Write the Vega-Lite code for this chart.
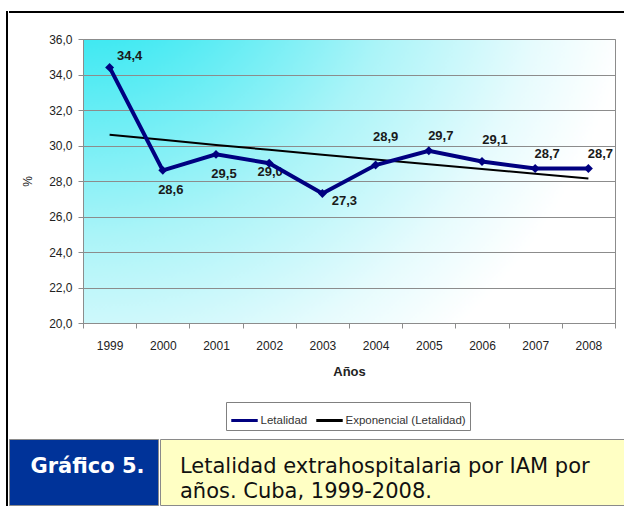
{
  "$schema": "https://vega.github.io/schema/vega-lite/v6.json",
  "padding": {"left": 6, "top": 11, "right": 0, "bottom": 0},
  "background": "#ffffff",
  "config": {
    "locale": {"number": {"decimal": ",", "thousands": ".", "grouping": [3], "currency": ["", " €"]}},
    "font": "Liberation Sans"
  },
  "spacing": 0,
  "resolve": {"scale": {"color": "independent"}, "legend": {"color": "independent"}},
  "hconcat": [
    {
      "data": {"values": []},
      "mark": "point",
      "width": 2,
      "height": 495,
      "view": {"fill": "#000000", "stroke": null}
    },
    {
      "spacing": 19,
      "resolve": {"scale": {"color": "independent"}, "legend": {"color": "independent"}},
      "vconcat": [
        {
          "data": {"values": []},
          "mark": "point",
          "width": 616,
          "height": 2,
          "view": {"fill": "#000000", "stroke": null}
        },
        {
          "spacing": 7,
          "resolve": {"scale": {"color": "independent"}, "legend": {"color": "independent"}},
          "vconcat": [
            {
              "spacing": 0,
              "resolve": {"scale": {"color": "independent"}, "legend": {"color": "independent"}},
              "hconcat": [
                {
                  "data": {"values": []},
                  "mark": "point",
                  "width": 12,
                  "height": 284,
                  "view": {"fill": null, "stroke": null}
                },
                {
                  "width": 532,
                  "height": 284,
                  "data": {
                    "values": [
                      {"year": 1999, "Letalidad": 34.4, "trend": 30.60},
                      {"year": 2000, "Letalidad": 28.6, "trend": 30.32},
                      {"year": 2001, "Letalidad": 29.5, "trend": 30.03},
                      {"year": 2002, "Letalidad": 29.0, "trend": 29.76},
                      {"year": 2003, "Letalidad": 27.3, "trend": 29.48},
                      {"year": 2004, "Letalidad": 28.9, "trend": 29.21},
                      {"year": 2005, "Letalidad": 29.7, "trend": 28.94},
                      {"year": 2006, "Letalidad": 29.1, "trend": 28.67},
                      {"year": 2007, "Letalidad": 28.7, "trend": 28.41},
                      {"year": 2008, "Letalidad": 28.7, "trend": 28.14}
                    ]
                  },
                  "view": {
                    "fill": {
                      "gradient": "radial",
                      "x1": 0, "y1": 0, "r1": 0,
                      "x2": 0, "y2": 0, "r2": 1.1,
                      "stops": [
                        {"offset": 0, "color": "#00e2ee"},
                        {"offset": 0.28, "color": "#55ebf3"},
                        {"offset": 0.55, "color": "#abf4f8"},
                        {"offset": 0.8, "color": "#e6fbfd"},
                        {"offset": 0.95, "color": "#ffffff"}
                      ]
                    },
                    "stroke": "#8c8c8c",
                    "strokeWidth": 1
                  },
                  "encoding": {
                    "x": {
                      "field": "year",
                      "type": "ordinal",
                      "scale": {"type": "band", "paddingInner": 0, "paddingOuter": 0},
                      "axis": {
                        "title": "Años",
                        "labelAngle": 0,
                        "tickBand": "extent",
                        "grid": false,
                        "domainColor": "#8c8c8c",
                        "tickColor": "#8c8c8c",
                        "tickSize": 5,
                        "labelPadding": 12,
                        "labelFontSize": 12,
                        "labelColor": "#222222",
                        "titleFontSize": 13,
                        "titleFontWeight": "bold",
                        "titleColor": "#222222",
                        "titlePadding": 14
                      }
                    },
                    "y": {
                      "field": "Letalidad",
                      "type": "quantitative",
                      "scale": {"domain": [20, 36], "nice": false, "zero": false},
                      "axis": {
                        "title": "%",
                        "tickCount": 8,
                        "format": ".1f",
                        "grid": true,
                        "gridColor": "#8c8c8c",
                        "domainColor": "#8c8c8c",
                        "tickColor": "#8c8c8c",
                        "tickSize": 5,
                        "labelPadding": 6,
                        "labelFontSize": 12,
                        "labelColor": "#222222",
                        "labelOverlap": false,
                        "titleFontSize": 12,
                        "titleFontWeight": "normal",
                        "titleColor": "#222222",
                        "titlePadding": 14
                      }
                    }
                  },
                  "layer": [
                    {
                      "transform": [{"filter": {"field": "year", "oneOf": [1999]}}],
                      "mark": {"type": "text", "fontSize": 13, "fontWeight": "bold", "color": "#1a1a1a", "dx": 20, "dy": -11},
                      "encoding": {"text": {"field": "Letalidad", "type": "quantitative", "format": ".1f"}}
                    },
                    {
                      "transform": [{"filter": {"field": "year", "oneOf": [2000, 2001]}}],
                      "mark": {"type": "text", "fontSize": 13, "fontWeight": "bold", "color": "#1a1a1a", "dx": 8, "dy": 20},
                      "encoding": {"text": {"field": "Letalidad", "type": "quantitative", "format": ".1f"}}
                    },
                    {
                      "transform": [{"filter": {"field": "year", "oneOf": [2002]}}],
                      "mark": {"type": "text", "fontSize": 13, "fontWeight": "bold", "color": "#1a1a1a", "dx": 1, "dy": 9},
                      "encoding": {"text": {"field": "Letalidad", "type": "quantitative", "format": ".1f"}}
                    },
                    {
                      "transform": [{"filter": {"field": "year", "oneOf": [2003]}}],
                      "mark": {"type": "text", "fontSize": 13, "fontWeight": "bold", "color": "#1a1a1a", "dx": 22, "dy": 8},
                      "encoding": {"text": {"field": "Letalidad", "type": "quantitative", "format": ".1f"}}
                    },
                    {
                      "transform": [{"filter": {"field": "year", "oneOf": [2004]}}],
                      "mark": {"type": "text", "fontSize": 13, "fontWeight": "bold", "color": "#1a1a1a", "dx": 10, "dy": -28},
                      "encoding": {"text": {"field": "Letalidad", "type": "quantitative", "format": ".1f"}}
                    },
                    {
                      "transform": [{"filter": {"field": "year", "oneOf": [2006]}}],
                      "mark": {"type": "text", "fontSize": 13, "fontWeight": "bold", "color": "#1a1a1a", "dx": 13, "dy": -21},
                      "encoding": {"text": {"field": "Letalidad", "type": "quantitative", "format": ".1f"}}
                    },
                    {
                      "transform": [{"filter": {"field": "year", "oneOf": [2005, 2007, 2008]}}],
                      "mark": {"type": "text", "fontSize": 13, "fontWeight": "bold", "color": "#1a1a1a", "dx": 12, "dy": -15},
                      "encoding": {"text": {"field": "Letalidad", "type": "quantitative", "format": ".1f"}}
                    },
                    {
                      "mark": {"type": "line", "strokeWidth": 2},
                      "encoding": {
                        "y": {"field": "trend", "type": "quantitative", "title": "%"},
                        "color": {"datum": "Exponencial (Letalidad)"}
                      }
                    },
                    {
                      "mark": {"type": "line", "strokeWidth": 4},
                      "encoding": {
                        "color": {
                          "datum": "Letalidad",
                          "scale": {"domain": ["Letalidad", "Exponencial (Letalidad)"], "range": ["#000080", "#000000"]},
                          "legend": {
                            "title": null,
                            "orient": "none",
                            "legendX": 143,
                            "legendY": 363,
                            "direction": "horizontal",
                            "symbolType": "stroke",
                            "symbolSize": 700,
                            "symbolStrokeWidth": 3,
                            "labelFont": "Liberation Sans",
                            "labelFontSize": 11.5,
                            "labelColor": "#333333",
                            "strokeColor": "#808080",
                            "padding": 3.5,
                            "columnPadding": 2,
                            "labelOffset": 1
                          }
                        }
                      }
                    },
                    {
                      "mark": {"type": "point", "shape": "diamond", "filled": true, "size": 80, "color": "#000080", "opacity": 1}
                    }
                  ]
                }
              ]
            },
            {
              "spacing": 0,
              "hconcat": [
                {
                  "data": {"values": [{"t": "Gráfico 5."}]},
                  "mark": {"type": "text", "font": "DejaVu Sans", "fontSize": 21, "fontWeight": "bold", "color": "#ffffff", "dx": 4, "dy": -5},
                  "encoding": {"text": {"field": "t"}},
                  "width": 149,
                  "height": 66,
                  "view": {"fill": "#003399", "stroke": "#8a8a8a", "strokeWidth": 1}
                },
                {
                  "data": {"values": [{"t": ["Letalidad extrahospitalaria por IAM por", "años. Cuba, 1999-2008."]}]},
                  "mark": {"type": "text", "font": "DejaVu Sans", "fontSize": 21, "color": "#111111", "align": "left", "baseline": "middle", "lineHeight": 25},
                  "encoding": {
                    "text": {"field": "t"},
                    "x": {"value": 20},
                    "y": {"value": 28}
                  },
                  "width": 467,
                  "height": 66,
                  "view": {"fill": "#ffffc4", "stroke": "#8a8a8a", "strokeWidth": 1}
                }
              ]
            }
          ]
        }
      ]
    }
  ]
}
